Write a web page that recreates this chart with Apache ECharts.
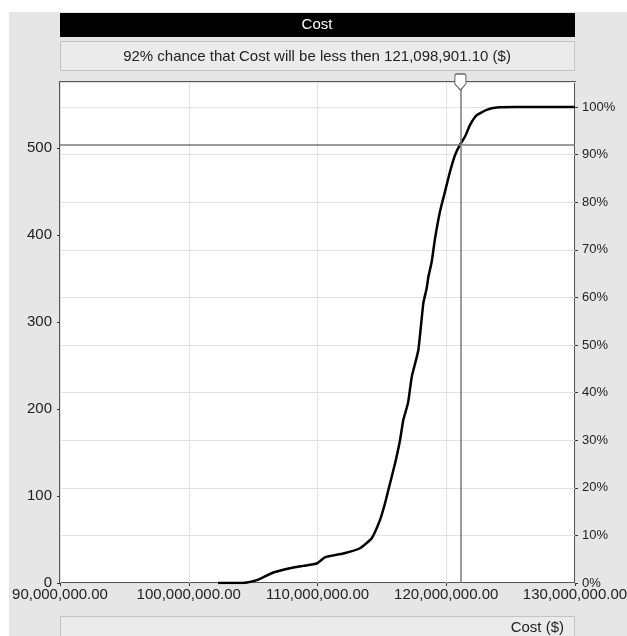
<!DOCTYPE html>
<html>
<head>
<meta charset="utf-8">
<script src="https://cdn.jsdelivr.net/npm/echarts@6/dist/echarts.min.js"></script>
<style>
html,body{margin:0;padding:0;background:#fff;}
#c{width:627px;height:636px;}
</style>
</head>
<body>
<div id="c"></div>
<script>
// Cost values (millions of $) and cumulative probability (%)
const costM = [102.27, 104.14, 104.52, 105.28, 106.57, 107.86, 108.90, 109.94, 110.58, 112.00, 113.30, 114.21, 114.85, 115.24, 115.63, 116.02, 116.41, 116.66, 117.03, 117.32, 117.83, 118.22, 118.48, 118.61, 118.87, 119.13, 119.51, 119.90, 120.29, 120.68, 121.05, 121.46, 121.84, 122.37, 123.14, 123.92, 125.47, 130.00];
const cumPct = [0, 0, 0.1, 0.6, 2.2, 3.1, 3.6, 4.1, 5.4, 6.2, 7.3, 9.4, 13.2, 16.7, 20.9, 25.1, 30.0, 34.2, 37.8, 43.3, 48.9, 58.8, 61.9, 64.3, 67.5, 72.4, 78.0, 82.2, 86.4, 89.9, 92.0, 93.8, 96.2, 98.3, 99.4, 99.9, 100, 100];
const xTicks = [90000000, 100000000, 110000000, 120000000, 130000000];
const countTicks = [0, 100, 200, 300, 400, 500];
const pctTicks = [0, 10, 20, 30, 40, 50, 60, 70, 80, 90, 100];
const markerCost = 121098901.10;
const markerPct = 92;
const titleText = 'Cost';
const subtitleText = '92% chance that Cost will be less then 121,098,901.10 ($)';
const axisName = 'Cost ($)';

const FONT = "'Liberation Sans', Arial, sans-serif";
function fmt(v){
  const s = Math.round(v).toString().replace(/\B(?=(\d{3})+(?!\d))/g, ',');
  return s + '.00';
}
const data = costM.map((c, i) => [c * 1e6, cumPct[i]]);
const countMax = 576, pctMax = 105.25;

const chart = echarts.init(document.getElementById('c'), null, {renderer: 'canvas'});
chart.setOption({
  animation: false,
  backgroundColor: '#ffffff',
  graphic: [
    {type: 'rect', z: -10, shape: {x: 9, y: 12, width: 618, height: 624}, style: {fill: '#e6e6e6'}},
    {type: 'rect', shape: {x: 60, y: 13, width: 515, height: 24}, style: {fill: '#000'}},
    {type: 'text', x: 317, y: 25, style: {text: titleText, fill: '#fff', font: '15px ' + FONT, textAlign: 'center', textVerticalAlign: 'middle'}},
    {type: 'rect', shape: {x: 60.5, y: 41.5, width: 514, height: 29}, style: {fill: '#ebebeb', stroke: '#c4c4c4', lineWidth: 1}},
    {type: 'text', x: 317, y: 57, style: {text: subtitleText, fill: '#222', font: '15px ' + FONT, textAlign: 'center', textVerticalAlign: 'middle'}},
    {type: 'rect', shape: {x: 60.5, y: 616.5, width: 514, height: 25}, style: {fill: '#ebebeb', stroke: '#c4c4c4', lineWidth: 1}},
    {type: 'text', x: 564, y: 628, style: {text: axisName, fill: '#222', font: '15px ' + FONT, textAlign: 'right', textVerticalAlign: 'middle'}}
  ],
  grid: {left: 60, right: 52, top: 82, bottom: 53, show: true, backgroundColor: '#fff', borderColor: '#555', borderWidth: 2,
    containLabel: false, outerBoundsMode: 'none'},
  xAxis: {
    type: 'value', min: xTicks[0], max: xTicks[xTicks.length - 1], interval: 10000000,
    axisLine: {show: false},
    axisTick: {show: true, length: 3, lineStyle: {color: '#333'}},
    axisLabel: {formatter: fmt, color: '#222', fontSize: 15, fontFamily: FONT, margin: 4},
    splitLine: {show: true, lineStyle: {color: '#e2e2e2', width: 1}}
  },
  yAxis: [
    {
      type: 'value', min: 0, max: countMax, interval: 100, position: 'left',
      axisLine: {show: false},
      axisTick: {show: true, length: 3, lineStyle: {color: '#333'}},
      axisLabel: {color: '#222', fontSize: 15, fontFamily: FONT, margin: 8, showMaxLabel: false,
        formatter: v => countTicks.indexOf(v) >= 0 ? String(v) : ''},
      splitLine: {show: false}
    },
    {
      type: 'value', min: 0, max: pctMax, interval: 10, position: 'right',
      axisLine: {show: false},
      axisTick: {show: true, length: 3, lineStyle: {color: '#333'}},
      axisLabel: {color: '#222', fontSize: 13, fontFamily: FONT, margin: 7, showMaxLabel: false,
        formatter: v => pctTicks.indexOf(v) >= 0 ? v + '%' : ''},
      splitLine: {show: true, lineStyle: {color: '#e2e2e2', width: 1}}
    }
  ],
  series: [{
    type: 'line', yAxisIndex: 1, data: data, showSymbol: false, symbol: 'none',
    smooth: 0.15,
    lineStyle: {color: '#000', width: 2.5},
    markLine: {
      silent: true, symbol: 'none', label: {show: false},
      lineStyle: {color: '#7a7a7a', width: 1.5, type: 'solid'},
      data: [{xAxis: markerCost}, {yAxis: markerPct}]
    },
    markPoint: {
      silent: true,
      symbol: 'path://M2,0 L10,0 Q12,0 12,2 L12,10 L6,16 L0,10 L0,2 Q0,0 2,0 Z',
      symbolSize: [11, 16],
      symbolKeepAspect: false,
      itemStyle: {color: '#fff', borderColor: '#666', borderWidth: 1.2},
      label: {show: false},
      data: [{coord: [markerCost, pctMax]}]
    }
  }]
});
</script>
</body>
</html>
